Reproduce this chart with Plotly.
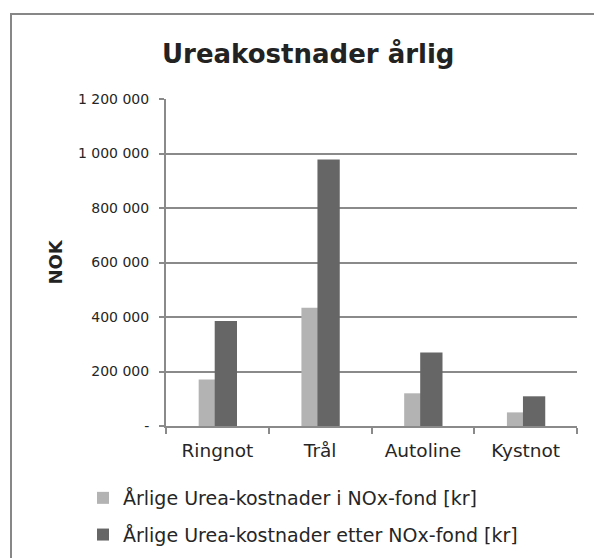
import plotly.graph_objects as go

categories = ["Ringnot", "Trål", "Autoline", "Kystnot"]
series_names = ["Årlige Urea-kostnader i NOx-fond [kr]", "Årlige Urea-kostnader etter NOx-fond [kr]"]
i_fond = [171000, 434000, 120000, 50000]
etter_fond = [385000, 978000, 270000, 109000]
y_tickvals = [0, 200000, 400000, 600000, 800000, 1000000, 1200000]
y_ticktext = ["-", "200 000", "400 000", "600 000", "800 000", "1 000 000", "1 200 000"]

FONT = "DejaVu Sans"
GRID = "#8a8a8a"

fig = go.Figure()
fig.add_trace(go.Bar(
    x=categories, y=i_fond, name=series_names[0],
    marker=dict(color="#b3b3b3", line=dict(width=0)),
    width=0.217, offset=-0.182, legendgroup="a",
))
fig.add_trace(go.Bar(
    x=categories, y=etter_fond, name=series_names[1],
    marker=dict(color="#666666", line=dict(width=0)),
    width=0.217, offset=-0.026, legendgroup="b",
))

W, H = 594, 558
L, R, T, B = 166, 577, 99, 426


def px(x):
    return (x - L) / (R - L)


def py(y):
    return (B - y) / (B - T)


fig.update_layout(
    width=W, height=H,
    margin=dict(l=L, r=W - R, t=T, b=H - B, pad=0, autoexpand=False),
    paper_bgcolor="white", plot_bgcolor="white",
    barmode="overlay",
    font=dict(family=FONT, color="#262626"),
    showlegend=True,
    legend=dict(
        x=px(83), y=py(479), xanchor="left", yanchor="top",
        orientation="v", traceorder="grouped", tracegroupgap=9,
        font=dict(size=19, family=FONT, color="#262626"),
        itemwidth=30, bgcolor="rgba(0,0,0,0)",
    ),
    xaxis=dict(
        type="category", range=[-0.5, 3.5],
        showline=True, linecolor=GRID, linewidth=2,
        ticks="outside", ticklen=6, tickwidth=2, tickcolor=GRID,
        tickson="boundaries", showgrid=False,
        tickfont=dict(size=18.5, family=FONT, color="#262626"),
        ticklabelstandoff=7,
    ),
    yaxis=dict(
        range=[0, 1200000],
        tickvals=y_tickvals, ticktext=y_ticktext,
        showline=True, linecolor=GRID, linewidth=2,
        ticks="outside", ticklen=5, tickwidth=2, tickcolor=GRID,
        showgrid=True, gridcolor=GRID, gridwidth=2,
        zeroline=False,
        tickfont=dict(size=14, family=FONT, color="#262626"),
        ticklabelstandoff=7,
    ),
    shapes=[dict(
        type="rect", xref="paper", yref="paper",
        x0=px(11), x1=px(640), y0=py(620), y1=py(14),
        line=dict(color="#878787", width=2), fillcolor="rgba(0,0,0,0)",
        layer="below",
    )],
    annotations=[
        dict(text="<b>Ureakostnader årlig</b>", xref="paper", yref="paper",
             x=px(308), y=py(53), xanchor="center", yanchor="middle",
             showarrow=False, font=dict(size=26, family=FONT, color="#222222")),
        dict(text="<b>NOK</b>", xref="paper", yref="paper",
             x=px(55), y=py(262.5), xanchor="center", yanchor="middle",
             textangle=-90, showarrow=False,
             font=dict(size=18, family=FONT, color="#222222")),
    ],
)

fig.write_html("out.html", config={"displayModeBar": False},
               post_script="document.body.style.margin='0';")
